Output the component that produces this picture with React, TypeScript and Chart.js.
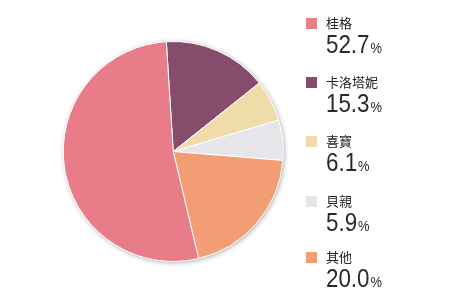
import React, { useEffect, useRef } from "react";
import { Chart, registerables } from "chart.js";

Chart.register(...registerables);

const categories = ["卡洛塔妮", "喜寶", "貝親", "其他", "桂格"];
const values = [15.3, 6.1, 5.9, 20.0, 52.7];
const colors = ["#874B6C", "#F0DCA8", "#E6E6EA", "#F29D74", "#E87C88"];

const legendOrder = ["桂格", "卡洛塔妮", "喜寶", "貝親", "其他"];
const legendTops = [14, 73, 132, 192, 248];

const shadowPlugin = {
  id: "pieShadow",
  beforeDatasetsDraw(chart: any) {
    const meta = chart.getDatasetMeta(0);
    const arc = meta.data[0];
    if (!arc) return;
    const { x, y, outerRadius } = arc.getProps(["x", "y", "outerRadius"], true);
    const ctx = chart.ctx;
    ctx.save();
    ctx.shadowColor = "rgba(0,0,0,0.35)";
    ctx.shadowBlur = 5;
    ctx.shadowOffsetX = 1;
    ctx.shadowOffsetY = 1;
    ctx.fillStyle = "#ffffff";
    ctx.beginPath();
    ctx.arc(x, y, outerRadius, 0, Math.PI * 2);
    ctx.fill();
    ctx.restore();
  },
};

export default function App() {
  const ref = useRef<HTMLCanvasElement>(null);
  useEffect(() => {
    document.body.style.margin = "0";
    const chart = new Chart(ref.current!, {
      type: "pie",
      data: {
        labels: categories,
        datasets: [
          {
            data: values,
            backgroundColor: colors,
            borderColor: "#ffffff",
            borderWidth: 1,
          },
        ],
      },
      options: {
        animation: false,
        responsive: false,
        rotation: -3.6,
        layout: { padding: { left: 62.5, right: 166, top: 41, bottom: 38 } },
        plugins: { legend: { display: false }, tooltip: { enabled: false } },
      },
      plugins: [shadowPlugin],
    });
    return () => chart.destroy();
  }, []);

  return (
    <div style={{ position: "absolute", left: 0, top: 0, width: 450, height: 300, background: "#fff" }}>
      <canvas ref={ref} width={450} height={300} style={{ position: "absolute", left: 0, top: 0 }} />
      {legendOrder.map((name, i) => {
        const idx = categories.indexOf(name);
        const v = values[idx];
        return (
          <div key={name} style={{ position: "absolute", left: 306, top: legendTops[i] }}>
            <div style={{ display: "flex", alignItems: "center", height: 18 }}>
              <div style={{ width: 11, height: 11, background: colors[idx], marginRight: 9 }} />
              <span style={{ fontFamily: "'Noto Sans CJK TC', sans-serif", fontSize: 13, color: "#222", lineHeight: "18px" }}>{name}</span>
            </div>
            <div
              style={{
                marginLeft: 20,
                marginTop: -1,
                whiteSpace: "nowrap",
                color: "#2a2a2a",
                lineHeight: "26px",
                display: "inline-block",
                transform: "scaleX(0.86)",
                transformOrigin: "left center",
                fontFamily: "'Liberation Sans', Arial, sans-serif",
              }}
            >
              <span style={{ fontSize: 26 }}>{v.toFixed(1)}</span>
              <span style={{ fontSize: 15, marginLeft: 1 }}>%</span>
            </div>
          </div>
        );
      })}
    </div>
  );
}
